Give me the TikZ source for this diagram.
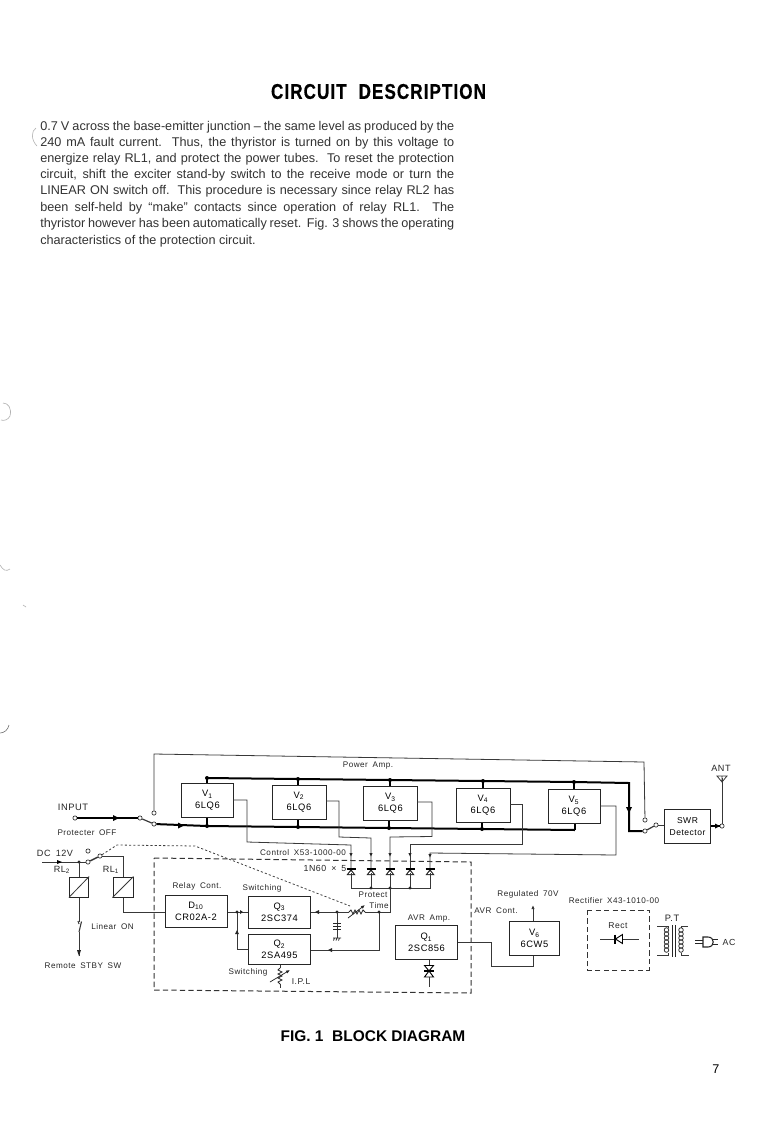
\documentclass[tikz,border=0pt]{standalone}
\usepackage{fontspec}
\setmainfont{Liberation Sans}
\usetikzlibrary{arrows.meta,calc}
\newlength{\pxu}\setlength{\pxu}{0.75pt}
\newfontfamily\spacedfont[LetterSpace=6,WordSpace=1.7]{Liberation Sans}
\newfontfamily\titlefont[LetterSpace=5,FakeStretch=0.8,FakeBold=0.6]{Liberation Sans Bold}
\newcommand{\lab}[1]{\fontsize{#1}{#1}\spacedfont}
\newcommand{\bodyfont}{\fontsize{9.5pt}{10pt}\selectfont}
\newcommand{\bodyline}[1]{\makebox[414\pxu][s]{\bodyfont #1}}
\tikzset{
 x=0.75pt,y=-0.75pt,
 wire/.style={draw=black!78,line width=0.6pt},
 bus/.style={draw=black,line width=1.5pt},
 dash box/.style={draw=black!80,line width=0.75pt,dash pattern=on 4pt off 2.4pt},
 dot line/.style={draw=black!75,line width=0.6pt,dash pattern=on 1.6pt off 1.6pt},
 block/.style={draw=black!85,line width=0.75pt,fill=white,inner sep=0pt,align=center,font=\lab{7pt}},
 lbl/.style={inner sep=0pt,text=black!85,font=\lab{6.1pt}},
 para/.style={inner sep=0pt,anchor=west,text=black!80},
 term/.style={circle,draw=black!80,fill=white,line width=0.5pt,inner sep=0pt,minimum size=3.2pt},
 jn/.style={circle,fill=black,inner sep=0pt,minimum size=3pt},
 sjn/.style={circle,fill=black!85,inner sep=0pt,minimum size=2.4pt},
 sar/.style={-{Latex[length=3pt,width=2.5pt]},wire},
 speck/.style={draw=black!30,line width=0.45pt},
 pics/diodeup/.style={code={
   \fill[black!85] (0,-4) -- (4.5,2) -- (-4.5,2) -- cycle;
   \fill[white] (0,-1.8) -- (2.6,1.2) -- (-2.6,1.2) -- cycle;
   \draw[black,line width=.8pt] (-4.5,-4) -- (4.5,-4);
 }},
 pics/varres/.style={code={
   \fill[white] (-8,-3) rectangle (8,3);
   \draw[black!85,line width=.55pt] (-8,0) -- (-6,-2) -- (-4,2) -- (-2,-2) -- (0,2) -- (2,-2) -- (4,2) -- (6,-2) -- (8,0);
   \draw[black!85,line width=.55pt,-{Latex[length=3pt,width=2.5pt]}] (-9,6) -- (8,-7);
 }},
 pics/varresv/.style={code={
   \fill[white] (-3,-8) rectangle (3,8);
   \draw[black!85,line width=.55pt] (0,-8) -- (-2,-6) -- (2,-4) -- (-2,-2) -- (2,0) -- (-2,2) -- (2,4) -- (-2,6) -- (0,8);
   \draw[black!85,line width=.55pt,-{Latex[length=3pt,width=2.5pt]}] (-10,6) -- (10,-6);
 }}
}
\begin{document}
\begin{tikzpicture}
\useasboundingbox (0,0) rectangle (782,1122);
\fill[white] (0,0) rectangle (782,1122);

% ---- scan marks in the margin
\draw[speck] (36,128) .. controls (31,131) and (31,140) .. (37,146);
\draw[speck] (3,403) .. controls (8,403) and (12,408) .. (10,416) .. controls (8,420) and (4,421) .. (1,420);
\draw[speck] (0,565) .. controls (3,570) and (6,572) .. (10,569);
\draw[speck,draw=black!55] (0,733) .. controls (4,733) and (8,730) .. (9,725);
\draw[speck] (23,605) -- (26,607);

% ---- page text
\node[inner sep=0pt,font=\fontsize{16pt}{16pt}\titlefont] (title) at (378.5,91.5) {CIRCUIT\hspace{9pt}DESCRIPTION};
\node[para] (l1) at (40,127) {\bodyline{0.7 V across the base-emitter junction -- the same level as produced by the}};
\node[para] (l2) at (40,143) {\bodyline{240 mA fault current.\ \ Thus, the thyristor is turned on by this voltage to}};
\node[para] (l3) at (40,159) {\bodyline{energize relay RL1, and protect the power tubes.\ \ To reset the protection}};
\node[para] (l4) at (40,175) {\bodyline{circuit, shift the exciter stand-by switch to the receive mode or turn the}};
\node[para] (l5) at (40,191) {\bodyline{LINEAR ON switch off.\ \ This procedure is necessary since relay RL2 has}};
\node[para] (l6) at (40,208) {\bodyline{been self-held by ``make'' contacts since operation of relay RL1.\ \ The}};
\node[para] (l7) at (40,224) {\bodyline{thyristor however has been automatically reset.\ \ Fig. 3 shows the operating}};
\node[para,font=\bodyfont] (l8) at (40,241) {characteristics of the protection circuit.};
\node[inner sep=0pt,font=\fontsize{11.6pt}{11.6pt}\bfseries] (fig) at (373,1036) {FIG. 1\ \ BLOCK DIAGRAM};
\node[inner sep=0pt,font=\bodyfont] (pageno) at (716,1069) {7};

% ---- boxes
\path (207.5,800.5) node[block,minimum width=38.5pt,minimum height=24.8pt] (v1) {V\textsubscript{1}\\[2pt]6LQ6};
\path (299,802) node[block,minimum width=40.5pt,minimum height=25.5pt] (v2) {V\textsubscript{2}\\[2pt]6LQ6};
\path (390.5,803.5) node[block,minimum width=39.8pt,minimum height=25pt] (v3) {V\textsubscript{3}\\[2pt]6LQ6};
\path (483,805) node[block,minimum width=40.5pt,minimum height=25.5pt] (v4) {V\textsubscript{4}\\[2pt]6LQ6};
\path (574,806.5) node[block,minimum width=39pt,minimum height=24.8pt] (v5) {V\textsubscript{5}\\[2pt]6LQ6};
\path (687.5,826.5) node[block,minimum width=35.2pt,minimum height=24.8pt,font=\lab{6.4pt}] (swr) {SWR\\[2.5pt]Detector};
\path (196,911) node[block,minimum width=46.5pt,minimum height=24pt] (d10) {D\textsubscript{10}\\[2pt]CR02A-2};
\path (279.5,912) node[block,minimum width=47.2pt,minimum height=24pt] (q3) {Q\textsubscript{3}\\[2pt]2SC374};
\path (279.5,949.5) node[block,minimum width=47.2pt,minimum height=23.2pt] (q2) {Q\textsubscript{2}\\[2pt]2SA495};
\path (426.5,942.5) node[block,minimum width=45.8pt,minimum height=24.8pt] (q1) {Q\textsubscript{1}\\[2pt]2SC856};
\path (534.5,938.5) node[block,minimum width=38.2pt,minimum height=26.2pt] (v6) {V\textsubscript{6}\\[2pt]6CW5};
\path (79,887) node[block,minimum width=14.5pt,minimum height=15pt] (rl2) {};
\path (123,887) node[block,minimum width=15pt,minimum height=15pt] (rl1) {};
\draw[wire] (rl2.south west) -- (rl2.north east);
\draw[wire] (rl1.south west) -- (rl1.north east);

% ---- dashed enclosures
\draw[dash box] (154,858) -- (471,862) -- (471,993) -- (154,990) -- cycle;
\draw[dash box] (587,910) -- (649,910) -- (649,970) -- (587,970) -- cycle;

% ---- terminals and junction coordinates
\node[term] (tin) at (75,818) {};
\node[term] (tsw1) at (140,818) {};
\node[term] (tsw2) at (154,824) {};
\node[term] (tsw3) at (154,813) {};
\node[term] (tr1) at (645,831) {};
\node[term] (tr2) at (656,825) {};
\node[term] (tr3) at (645,820) {};
\node[term] (tant) at (722,826) {};
\node[term] (tdc0) at (88,851) {};
\node[term] (tdc1) at (88,862) {};
\node[term] (tdc2) at (100,856) {};
\coordinate (pt1) at (154,754);
\coordinate (pt2) at (644,762);
\coordinate (bb1) at (207,826);
\coordinate (bb2) at (298,827);
\coordinate (bb3) at (389,828);
\coordinate (bb4) at (482,829);
\coordinate (bb5) at (575,830);
\coordinate (tb1) at (207,778);
\coordinate (tb2) at (298,779);
\coordinate (tb3) at (390,780);
\coordinate (tb4) at (483,781);
\coordinate (tb5) at (574,782);
\coordinate (tb6) at (629,783);
\coordinate (tb7) at (629,831);

% ---- buses
\draw[bus] (tin) -- (tsw1);
\draw[bus] (tsw2) -- (bb1) -- (bb2) -- (bb3) -- (bb4) -- (bb5);
\draw[bus] (tb1) -- (tb2) -- (tb3) -- (tb4) -- (tb5) -- (tb6) -- (tb7) -- (tr1);
\draw[wire,line width=.9pt] (tsw1) -- (tsw2);
\draw[wire,line width=.9pt] (tr1) -- (tr2);
\draw[wire] (tr2) -- (swr.west |- tr2);
\draw[bus,line width=1.1pt] (tb1) -- (tb1 |- v1.north);
\draw[bus,line width=1.1pt] (tb2) -- (tb2 |- v2.north);
\draw[bus,line width=1.1pt] (tb3) -- (tb3 |- v3.north);
\draw[bus,line width=1.1pt] (tb4) -- (tb4 |- v4.north);
\draw[bus,line width=1.1pt] (tb5) -- (tb5 |- v5.north);
\draw[bus,line width=1.1pt] (bb1) -- (bb1 |- v1.south);
\draw[bus,line width=1.1pt] (bb2) -- (bb2 |- v2.south);
\draw[bus,line width=1.1pt] (bb3) -- (bb3 |- v3.south);
\draw[bus,line width=1.1pt] (bb4) -- (bb4 |- v4.south);
\draw[bus,line width=1.1pt] (bb5) -- (bb5 |- v5.south);
\foreach \c in {bb1,bb2,bb3,bb4,tb1,tb2,tb3,tb4,tb5} \node[jn] at (\c) {};
\path[fill=black] (119,818) -- (113,815) -- (113,821) -- cycle;
\path[fill=black] (184,825.5) -- (178,822.5) -- (178,828.5) -- cycle;
\path[fill=black] (629,813) -- (626,807) -- (632,807) -- cycle;

% ---- top feedback wire
\draw[wire] (tsw3) -- (pt1) -- (pt2) -- (tr3);

% ---- antenna
\coordinate (anttop) at (722,778);
\draw[wire] (tant) -- (anttop);
\draw[wire] (717,776) -- (727,776) -- (722,782) -- cycle (722,776) -- (722,782);
\draw[bus,line width=1pt] (swr.east |- tant) -- (tant);
\fill (720,826) -- (715,823.5) -- (715,828.5) -- cycle;

% ---- plate wires to diodes
\coordinate (d1) at (351,873);
\coordinate (d2) at (371,873);
\coordinate (d3) at (390,873);
\coordinate (d4) at (410,873);
\coordinate (d5) at (430,873);
\draw[wire] (233,800) -- (247,800) -- (247,842) -- (351,845) -- (d1);
\draw[wire] (326,801) -- (339,801) -- (339,837) -- (371,838) -- (d2);
\draw[wire] (417,802) -- (432,802) -- (432,836.5) -- (390,837) -- (d3);
\draw[wire] (510,804) -- (522,804) -- (522,844) -- (410,844) -- (d4);
\draw[wire] (600,806) -- (616,806) -- (616,855) -- (430,853) -- (d5);
\foreach \c/\yy in {d1/854,d2/854,d3/854,d4/854,d5/855} {
  \fill[black!85] ($(\c |- 0,\yy)+(0,2.5)$) -- ++(-1.6,-3.5) -- ++(3.2,0) -- cycle;
}
\foreach \c in {d1,d2,d3,d4,d5} \pic at (\c) {diodeup};
\coordinate (db1) at (351,888);
\coordinate (db2) at (371,888);
\coordinate (db3) at (390,888);
\coordinate (db4) at (410,888);
\coordinate (db5) at (430,888);
\draw[wire] (d1) -- (db1) -- (db5) -- (d5);
\draw[wire] (d2) -- (db2) (d3) -- (db3) (d4) -- (db4);
\foreach \c in {db2,db3,db4} \node[sjn] at (\c) {};

% ---- protect network
\coordinate (pj) at (390,912);
\coordinate (tj) at (379,912);
\coordinate (cj) at (337,912);
\coordinate (rv) at (357,912);
\draw[wire] (db3) -- (pj) -- (tj) -- (rv) -- (cj) -- (q3.east |- cj);
\draw[wire] (tj) -- (379,950) -- (q2.east |- 0,950);
\node[sjn] at (tj) {};
\node[sjn] at (cj) {};
\fill[black!85] (315,912) -- (319,910) -- (319,914) -- cycle;
\fill[black!85] (328,950) -- (332,948) -- (332,952) -- cycle;
\pic at (rv) {varres};
\coordinate (gnd) at (337,938);
\draw[wire] (cj) -- (gnd);
\draw[black!85,line width=.7pt] (333,923) -- (341,923) (333,926) -- (341,926) (333,929) -- (341,929);
\draw[black!85,line width=.6pt] (333,938) -- (341,938) (334.5,938) -- (333.5,940.5) (337,938) -- (336,940.5) (339.5,938) -- (338.5,940.5);

% ---- relay section
\coordinate (dcin) at (42,862);
\coordinate (dcj) at (79,862);
\draw[wire] (dcin) -- (tdc1);
\fill (62,862) -- (57,860) -- (57,864) -- cycle;
\node[sjn] at (dcj) {};
\draw[wire] (dcj) -- (rl2);
\draw[wire,line width=1.1pt] (tdc1) -- (tdc2);
\draw[wire] (tdc2) -- (123,856) -- (rl1);
\coordinate (r1a) at (123,912);
\draw[wire] (rl1) -- (r1a) -- (d10.west |- r1a);
\coordinate (sw1) at (79,922);
\coordinate (sw2) at (79,932);
\coordinate (stby) at (79,956);
\draw[wire] (rl2) -- (sw1);
\draw[wire] (sw2) -- (stby);
\draw[wire,line width=.8pt] (sw2) -- (81.5,921.5) (78,921) -- (79,924);
\fill[black!85] (79,956) -- (77,950) -- (81,950) -- cycle;
\draw[dot line] (tdc2) -- (117,845) -- (195,846) -- (350,906);

% ---- control section
\coordinate (qj) at (237,912);
\coordinate (qj2) at (237,949);
\draw[wire] (d10.east |- qj) -- (q3.west |- qj);
\draw[wire] (qj) -- (qj2) -- (q2.west |- qj2);
\node[sjn] at (qj) {};
\fill[black!85] (243,912) -- (240,910) -- (240,914) -- cycle;
\fill[black!85] (237,930) -- (235,934) -- (239,934) -- cycle;
\coordinate (ipl) at (280,988);
\draw[wire] (q2.south -| ipl) -- (ipl);
\pic at (280,976) {varresv};

% ---- AVR section
\coordinate (a1) at (491,942);
\coordinate (a2) at (491,966);
\coordinate (a3) at (533,966);
\draw[wire] (q1.east |- a1) -- (a1) -- (a2) -- (a3) -- (a3 |- v6.south);
\coordinate (reg) at (533,905);
\draw[sar] (v6.north -| reg) -- (reg);
\coordinate (zn) at (429,971);
\coordinate (znb) at (429,987);
\draw[wire] (q1.south -| zn) -- (znb);
\fill[white] (424,965) rectangle (434,977);
\draw[black,line width=.7pt,fill=white] (424.5,977) -- (433.5,977) -- (429,971) -- cycle;
\draw[black,line width=.7pt,fill=white] (424.5,965.5) -- (433.5,965.5) -- (429,971) -- cycle;
\draw[black,line width=.8pt] (424,971) -- (434,971);

% ---- rectifier
\coordinate (re1) at (600,939);
\coordinate (re2) at (639,939);
\draw[wire] (re1) -- (re2);
\draw[black,line width=.7pt,fill=white] (622.5,934.5) -- (622.5,943.5) -- (615.5,939) -- cycle;
\draw[black,line width=.8pt] (615,934.5) -- (615,943.5);

% ---- transformer
\draw[wire] (657,926) -- (668,926) -- (668,928) (657,955) -- (668,955) -- (668,953) (681,926) -- (688,926) (681,928) -- (681,926) (681,955) -- (689,955) (681,953) -- (681,955);
\draw[black!85,line width=.7pt] (672.5,925) -- (672.5,957) (675,925) -- (675,957);
\foreach \yy in {930,934,938,942,946,950} {
  \draw[black!85,line width=.55pt] (666.5,\yy) circle [radius=2.3];
  \draw[black!85,line width=.55pt] (681,\yy) circle [radius=2.3];
}
% ---- plug
\draw[black!85,line width=.7pt] (695,940) -- (703,940) (695,943) -- (703,943);
\draw[black!85,line width=.8pt] (703,937) -- (708,937) .. controls (715,937) and (715,947) .. (708,947) -- (703,947) -- cycle;
\draw[black!85,line width=.7pt] (712,939) -- (718,939) (712,944.5) -- (718,944.5);

% ---- labels
\node[lbl,font=\lab{7pt}] (nin) at (73,807) {INPUT};
\node[lbl] (npo) at (87,833) {Protecter OFF};
\node[lbl,font=\lab{6.8pt}] (ndc) at (55,853) {DC 12V};
\node[lbl,font=\lab{6.8pt}] (nrl2) at (62,870) {RL\textsubscript{2}};
\node[lbl,font=\lab{6.8pt}] (nrl1) at (111,870) {RL\textsubscript{1}};
\node[lbl] (nlin) at (112.5,927) {Linear ON};
\node[lbl] (nrem) at (83,966) {Remote STBY SW};
\node[lbl] (npa) at (368,766) {Power Amp.};
\node[lbl] (nctl) at (303,853) {Control X53-1000-00};
\node[lbl,font=\lab{6.6pt}] (n1n) at (325,868) {1N60 × 5};
\node[lbl] (nrc) at (197,886) {Relay Cont.};
\node[lbl] (nsw) at (262,888) {Switching};
\node[lbl] (nsw2) at (248,972) {Switching};
\node[lbl,font=\lab{6.4pt}] (nipl) at (301,982) {I.P.L};
\node[lbl] (npr) at (373,895) {Protect};
\node[lbl] (nti) at (379,906) {Time};
\node[lbl] (navr) at (429,919) {AVR Amp.};
\node[lbl] (nreg) at (528,894) {Regulated 70V};
\node[lbl] (nac) at (496,911) {AVR Cont.};
\node[lbl] (nrec) at (614,901) {Rectifier X43-1010-00};
\node[lbl,font=\lab{6.4pt}] (nrect) at (618,926) {Rect};
\node[lbl,font=\lab{7pt}] (npt) at (672,918) {P.T};
\node[lbl,font=\lab{6.6pt}] (nacm) at (729,942) {AC};
\node[lbl,font=\lab{6.8pt}] (nant) at (721,768) {ANT};
\end{tikzpicture}
\end{document}
